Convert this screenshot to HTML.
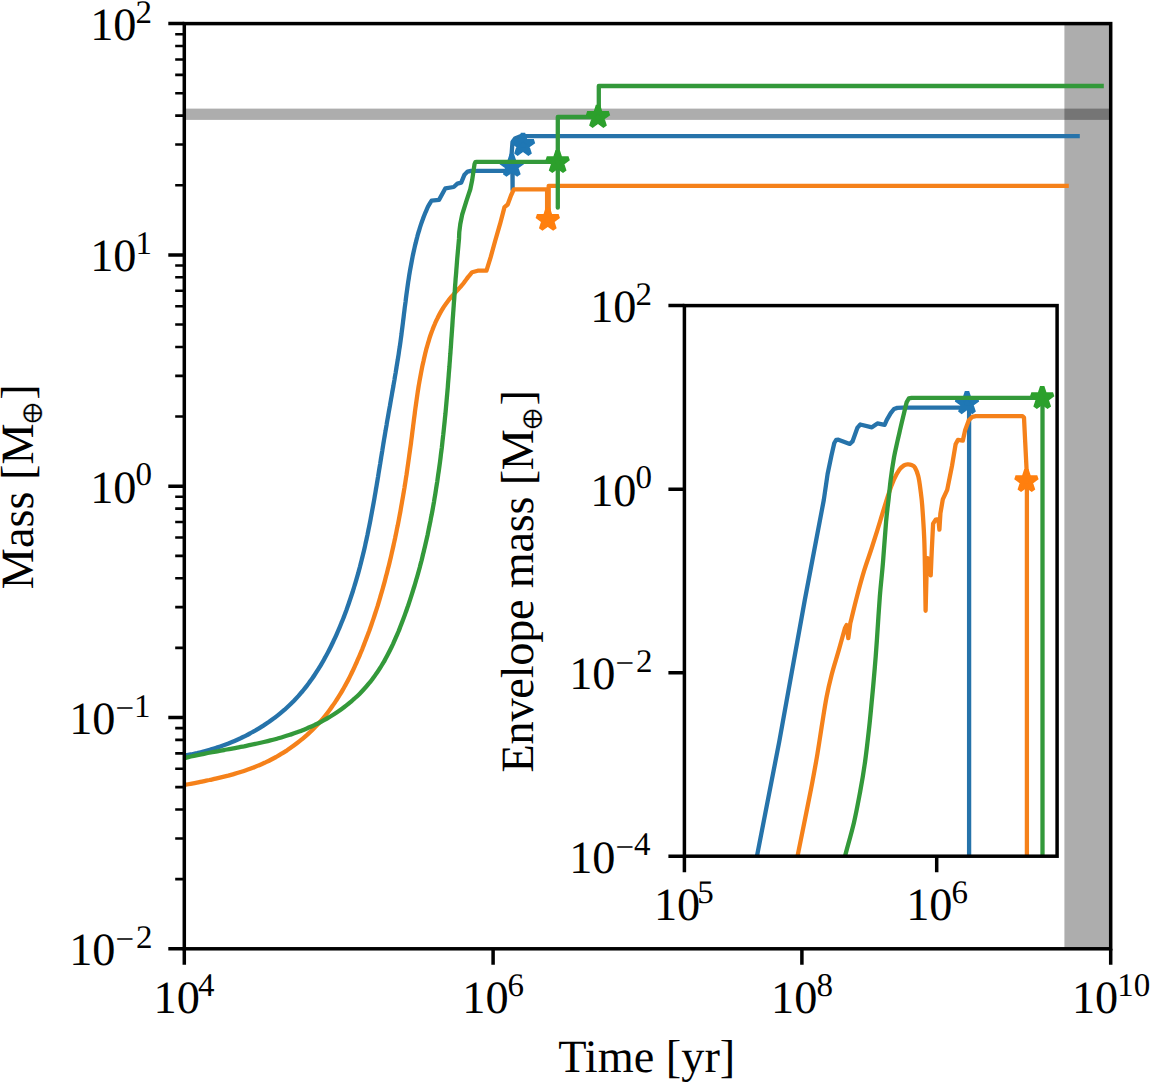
<!DOCTYPE html><html><head><meta charset="utf-8"><title>Mass vs Time</title><style>html,body{margin:0;padding:0;background:#fff}svg{display:block}text{font-family:"Liberation Serif","DejaVu Serif",serif;fill:#000;text-rendering:geometricPrecision}.sym{font-family:"DejaVu Math TeX Gyre","DejaVu Serif",serif}</style></head><body>
<svg width="1154" height="1085" viewBox="0 0 1154 1085">
<rect width="1154" height="1085" fill="#fff"/>
<defs><clipPath id="cm"><rect x="184.3" y="23.6" width="926.40" height="925.19"/></clipPath><clipPath id="ci"><rect x="684.4" y="305.6" width="372.69" height="550.6"/></clipPath></defs>
<rect x="184.3" y="108.6" width="926.40" height="11.3" fill="#000" fill-opacity="0.32"/>
<rect x="1064.4" y="23.6" width="46.29" height="925.19" fill="#000" fill-opacity="0.32"/>
<g clip-path="url(#cm)">
<path d="M184.3,755.6 C185.4,755.4 188.6,754.8 190.7,754.4 C192.8,754.0 195.0,753.5 197.1,753.1 C199.2,752.6 201.3,752.1 203.4,751.5 C205.6,751.0 207.7,750.4 209.8,749.8 C211.9,749.2 214.0,748.5 216.1,747.9 C218.1,747.2 220.2,746.5 222.3,745.7 C224.4,745.0 226.4,744.2 228.5,743.4 C230.5,742.6 232.5,741.8 234.6,740.9 C236.6,740.0 238.6,739.1 240.6,738.2 C242.6,737.2 244.6,736.3 246.5,735.3 C248.5,734.3 250.4,733.2 252.4,732.2 C254.3,731.1 256.2,730.0 258.1,728.9 C260.0,727.8 261.8,726.6 263.7,725.4 C265.5,724.2 267.3,723.0 269.1,721.8 C270.9,720.5 272.7,719.2 274.4,717.9 C276.2,716.6 277.9,715.3 279.6,713.9 C281.3,712.5 283.0,711.1 284.6,709.7 C286.2,708.2 287.8,706.7 289.4,705.2 C291.0,703.7 292.5,702.2 294.0,700.7 C295.5,699.1 297.0,697.5 298.5,695.9 C299.9,694.3 301.3,692.6 302.7,691.0 C304.1,689.3 305.5,687.6 306.8,685.9 C308.1,684.1 309.4,682.4 310.7,680.6 C311.9,678.8 313.2,677.0 314.4,675.2 C315.6,673.4 316.8,671.6 318.0,669.7 C319.1,667.9 320.3,666.0 321.4,664.1 C322.5,662.2 323.6,660.3 324.6,658.4 C325.7,656.5 326.8,654.6 327.8,652.6 C328.8,650.7 329.8,648.7 330.8,646.7 C331.7,644.8 332.7,642.8 333.6,640.8 C334.6,638.8 335.5,636.8 336.4,634.8 C337.3,632.8 338.2,630.8 339.0,628.8 C339.9,626.7 340.7,624.7 341.5,622.7 C342.4,620.7 343.2,618.6 344.0,616.6 C344.8,614.5 345.5,612.5 346.3,610.4 C347.0,608.4 347.8,606.3 348.5,604.2 C349.2,602.2 349.9,600.1 350.6,598.0 C351.3,596.0 352.0,593.9 352.7,591.8 C353.3,589.7 354.0,587.6 354.6,585.5 C355.3,583.4 355.9,581.3 356.5,579.2 C357.1,577.1 357.7,575.0 358.3,572.9 C358.8,570.8 359.4,568.7 360.0,566.6 C360.5,564.5 361.1,562.3 361.6,560.2 C362.1,558.1 362.7,556.0 363.2,553.8 C363.7,551.7 364.2,549.6 364.7,547.5 C365.2,545.3 365.6,543.2 366.1,541.1 C366.6,538.9 367.0,536.8 367.5,534.7 C367.9,532.5 368.4,530.4 368.8,528.2 C369.3,526.1 369.7,523.9 370.1,521.8 C370.5,519.7 370.9,517.5 371.3,515.4 C371.7,513.2 372.1,511.1 372.5,508.9 C372.9,506.8 373.3,504.6 373.7,502.4 C374.1,500.3 374.5,498.1 374.8,496.0 C375.2,493.8 375.6,491.7 375.9,489.5 C376.3,487.4 376.7,485.2 377.0,483.0 C377.4,480.9 377.7,478.7 378.1,476.6 C378.4,474.4 378.8,472.2 379.1,470.1 C379.5,467.9 379.8,465.8 380.2,463.6 C380.5,461.4 380.9,459.3 381.2,457.1 C381.6,455.0 381.9,452.8 382.3,450.6 C382.6,448.5 383.0,446.3 383.3,444.2 C383.7,442.0 384.0,439.9 384.4,437.7 C384.8,435.5 385.1,433.4 385.5,431.2 C385.8,429.1 386.2,426.9 386.6,424.8 C386.9,422.6 387.3,420.5 387.7,418.3 C388.1,416.1 388.4,414.0 388.8,411.8 C389.2,409.7 389.6,407.5 390.0,405.4 C390.3,403.2 390.7,401.1 391.1,398.9 C391.5,396.8 391.9,394.6 392.2,392.5 C392.6,390.3 393.0,388.2 393.4,386.0 C393.7,383.9 394.1,381.7 394.5,379.6 C394.8,377.4 395.2,375.3 395.6,373.1 C395.9,370.9 396.3,368.8 396.6,366.6 C397.0,364.5 397.3,362.3 397.7,360.2 C398.0,358.0 398.4,355.8 398.7,353.7 C399.0,351.5 399.3,349.3 399.7,347.2 C400.0,345.0 400.3,342.8 400.6,340.7 C400.9,338.5 401.2,336.3 401.5,334.1 C401.7,332.0 402.0,329.8 402.3,327.6 C402.6,325.4 402.9,323.3 403.1,321.1 C403.4,318.9 403.7,316.7 403.9,314.5 C404.2,312.4 404.5,310.2 404.7,308.0 C405.0,305.8 405.3,303.6 405.6,301.5 C405.8,299.3 406.1,297.1 406.4,294.9 C406.7,292.8 407.0,290.6 407.3,288.4 C407.6,286.3 407.9,284.1 408.2,281.9 C408.6,279.8 408.9,277.6 409.2,275.4 C409.6,273.3 409.9,271.1 410.3,269.0 C410.7,266.8 411.1,264.7 411.5,262.5 C411.9,260.4 412.3,258.3 412.7,256.1 C413.2,254.0 413.6,251.9 414.1,249.7 C414.6,247.6 415.0,245.5 415.6,243.4 C416.1,241.3 416.6,239.2 417.2,237.1 C417.7,235.0 418.3,232.9 419.0,230.8 C419.6,228.7 420.2,226.6 420.9,224.6 C421.6,222.5 422.3,220.5 423.1,218.4 C423.9,216.4 424.7,214.4 425.5,212.3 C426.4,210.3 427.2,208.3 428.2,206.3 C429.2,204.4 431.0,201.6 431.6,200.6 L439.0,199.9 L445.4,188.3 L453.7,187.0 L457.4,183.6 L461.2,182.6 L464.5,174.7 L467.6,171.6 L471.0,170.8 L512.6,170.8 L512.6,190.0 L512.4,170.8 L511.3,158.0 L512.5,142.0 L515.0,138.5 L520.5,136.1 L1079.8,136.1" fill="none" stroke="#2673aa" stroke-width="4.3" stroke-linejoin="round" stroke-linecap="butt"/>
<polygon points="511.80,154.40 514.36,162.28 522.64,162.28 515.94,167.15 518.50,175.02 511.80,170.15 505.10,175.02 507.66,167.15 500.96,162.28 509.24,162.28" fill="#1f77b4" stroke="#1f77b4" stroke-width="4.57" stroke-linejoin="bevel"/>
<polygon points="523.00,133.50 525.56,141.38 533.84,141.38 527.14,146.25 529.70,154.12 523.00,149.25 516.30,154.12 518.86,146.25 512.16,141.38 520.44,141.38" fill="#1f77b4" stroke="#1f77b4" stroke-width="4.57" stroke-linejoin="bevel"/>
<path d="M184.3,785.0 C185.3,784.8 188.5,784.2 190.6,783.8 C192.7,783.4 194.8,783.0 196.9,782.6 C199.0,782.2 201.1,781.7 203.1,781.3 C205.2,780.9 207.3,780.4 209.4,780.0 C211.5,779.5 213.6,779.1 215.7,778.6 C217.8,778.1 219.9,777.6 222.0,777.1 C224.1,776.6 226.2,776.1 228.2,775.6 C230.3,775.0 232.4,774.5 234.4,773.9 C236.5,773.3 238.6,772.7 240.6,772.0 C242.7,771.4 244.7,770.7 246.7,770.0 C248.7,769.3 250.8,768.6 252.8,767.8 C254.8,767.1 256.7,766.3 258.7,765.4 C260.7,764.6 262.7,763.7 264.6,762.8 C266.5,761.9 268.5,761.0 270.4,760.0 C272.3,759.0 274.2,758.0 276.1,757.0 C277.9,755.9 279.8,754.8 281.6,753.7 C283.5,752.6 285.3,751.4 287.1,750.3 C288.9,749.1 290.6,747.9 292.4,746.6 C294.1,745.4 295.8,744.1 297.5,742.8 C299.2,741.5 300.9,740.1 302.5,738.8 C304.2,737.4 305.8,736.0 307.4,734.6 C309.0,733.1 310.5,731.7 312.1,730.2 C313.6,728.7 315.1,727.2 316.6,725.6 C318.0,724.1 319.5,722.5 320.9,720.9 C322.3,719.3 323.6,717.7 325.0,716.0 C326.3,714.4 327.6,712.7 328.9,711.0 C330.2,709.3 331.4,707.6 332.6,705.8 C333.9,704.1 335.1,702.3 336.2,700.5 C337.4,698.7 338.5,696.9 339.6,695.1 C340.8,693.3 341.9,691.4 342.9,689.6 C344.0,687.7 345.0,685.8 346.1,683.9 C347.1,682.1 348.1,680.2 349.1,678.2 C350.0,676.3 351.0,674.4 351.9,672.5 C352.9,670.5 353.8,668.6 354.7,666.6 C355.6,664.6 356.5,662.7 357.3,660.7 C358.2,658.7 359.1,656.7 359.9,654.8 C360.7,652.8 361.5,650.8 362.4,648.8 C363.2,646.8 364.0,644.8 364.7,642.8 C365.5,640.8 366.3,638.8 367.0,636.8 C367.8,634.8 368.5,632.7 369.3,630.7 C370.0,628.7 370.7,626.7 371.4,624.7 C372.1,622.7 372.8,620.6 373.5,618.6 C374.2,616.6 374.8,614.6 375.5,612.5 C376.2,610.5 376.8,608.5 377.5,606.4 C378.1,604.4 378.7,602.3 379.3,600.3 C379.9,598.2 380.6,596.2 381.1,594.1 C381.7,592.1 382.3,590.0 382.9,588.0 C383.5,585.9 384.0,583.9 384.6,581.8 C385.2,579.8 385.7,577.7 386.2,575.6 C386.8,573.6 387.3,571.5 387.8,569.4 C388.4,567.4 388.9,565.3 389.4,563.2 C389.9,561.1 390.4,559.1 390.9,557.0 C391.4,554.9 391.8,552.8 392.3,550.7 C392.8,548.6 393.3,546.5 393.7,544.5 C394.2,542.4 394.6,540.3 395.1,538.2 C395.5,536.1 396.0,534.0 396.4,531.9 C396.8,529.8 397.2,527.7 397.7,525.6 C398.1,523.5 398.5,521.4 398.9,519.3 C399.3,517.2 399.7,515.1 400.1,513.0 C400.5,510.9 400.8,508.8 401.2,506.6 C401.6,504.5 402.0,502.4 402.3,500.3 C402.7,498.2 403.1,496.1 403.4,494.0 C403.8,491.8 404.1,489.7 404.5,487.6 C404.8,485.5 405.2,483.4 405.5,481.3 C405.8,479.1 406.1,477.0 406.5,474.9 C406.8,472.8 407.1,470.7 407.4,468.5 C407.7,466.4 408.0,464.3 408.3,462.2 C408.6,460.1 408.9,457.9 409.2,455.8 C409.5,453.7 409.8,451.6 410.1,449.4 C410.4,447.3 410.7,445.2 411.0,443.1 C411.2,440.9 411.5,438.8 411.8,436.7 C412.1,434.6 412.3,432.5 412.6,430.3 C412.9,428.2 413.1,426.1 413.4,424.0 C413.7,421.8 413.9,419.7 414.2,417.6 C414.5,415.5 414.8,413.4 415.0,411.2 C415.3,409.1 415.6,407.0 415.9,404.9 C416.2,402.8 416.5,400.7 416.8,398.5 C417.1,396.4 417.4,394.3 417.7,392.2 C418.0,390.1 418.4,388.0 418.7,385.9 C419.1,383.8 419.4,381.7 419.8,379.6 C420.2,377.4 420.6,375.3 421.0,373.2 C421.4,371.1 421.8,369.0 422.2,366.9 C422.6,364.8 423.1,362.7 423.6,360.7 C424.0,358.6 424.5,356.5 425.0,354.4 C425.5,352.3 426.1,350.2 426.6,348.1 C427.2,346.0 427.8,344.0 428.4,341.9 C429.0,339.9 429.6,337.8 430.3,335.8 C431.0,333.7 431.7,331.7 432.5,329.7 C433.2,327.7 434.0,325.7 434.9,323.8 C435.7,321.8 436.6,319.9 437.6,318.0 C438.5,316.1 439.5,314.2 440.5,312.4 C441.6,310.5 442.7,308.7 443.8,306.9 C445.0,305.1 446.2,303.4 447.5,301.7 C448.8,300.0 450.1,298.4 451.5,296.7 C452.9,295.1 454.4,293.5 455.9,291.9 C457.3,290.3 458.8,288.8 460.2,287.2 C461.6,285.5 463.0,283.9 464.3,282.2 C465.6,280.6 466.7,278.8 468.0,277.1 C469.4,275.5 471.5,273.0 472.2,272.2 L477.7,270.7 L486.5,270.7 L490.6,257.4 L495.2,240.8 L500.0,224.2 L504.5,207.1 L507.7,204.5 L511.0,195.5 L513.8,189.3 L547.1,189.3 L547.1,220.6 L548.7,220.6 L548.7,185.8 L1068.8,185.8" fill="none" stroke="#f5811a" stroke-width="4.3" stroke-linejoin="round" stroke-linecap="butt"/>
<polygon points="547.80,208.30 550.36,216.18 558.64,216.18 551.94,221.05 554.50,228.92 547.80,224.05 541.10,228.92 543.66,221.05 536.96,216.18 545.24,216.18" fill="#ff7f0e" stroke="#ff7f0e" stroke-width="4.57" stroke-linejoin="bevel"/>
<path d="M184.3,758.0 C185.4,757.8 188.7,757.0 190.9,756.5 C193.1,756.1 195.3,755.6 197.4,755.1 C199.6,754.7 201.8,754.3 204.0,753.8 C206.3,753.4 208.5,753.0 210.7,752.5 C212.9,752.1 215.1,751.7 217.3,751.3 C219.5,750.9 221.8,750.5 224.0,750.1 C226.2,749.7 228.4,749.2 230.7,748.8 C232.9,748.4 235.1,748.0 237.3,747.6 C239.5,747.2 241.8,746.7 244.0,746.3 C246.2,745.8 248.4,745.4 250.6,744.9 C252.9,744.5 255.1,744.0 257.3,743.5 C259.5,743.0 261.7,742.5 263.9,742.0 C266.1,741.5 268.3,741.0 270.4,740.4 C272.6,739.9 274.8,739.3 277.0,738.7 C279.1,738.1 281.3,737.5 283.5,736.8 C285.6,736.2 287.8,735.5 289.9,734.8 C292.0,734.1 294.2,733.4 296.3,732.6 C298.4,731.8 300.5,731.1 302.6,730.2 C304.7,729.4 306.7,728.5 308.8,727.6 C310.9,726.7 312.9,725.8 314.9,724.8 C317.0,723.9 319.0,722.9 321.0,721.8 C323.0,720.7 325.0,719.6 327.0,718.5 C328.9,717.4 330.9,716.2 332.8,715.0 C334.7,713.8 336.6,712.5 338.5,711.2 C340.4,709.9 342.2,708.6 344.0,707.2 C345.8,705.8 347.6,704.4 349.4,703.0 C351.1,701.5 352.9,700.1 354.5,698.5 C356.2,697.0 357.9,695.5 359.5,693.9 C361.1,692.3 362.6,690.7 364.1,689.0 C365.6,687.4 367.1,685.7 368.5,683.9 C370.0,682.2 371.4,680.5 372.7,678.7 C374.0,676.9 375.4,675.1 376.6,673.2 C377.9,671.4 379.1,669.5 380.3,667.6 C381.5,665.7 382.6,663.8 383.8,661.9 C384.9,659.9 386.0,658.0 387.0,656.0 C388.1,654.0 389.1,652.0 390.1,650.0 C391.1,648.0 392.1,645.9 393.1,643.9 C394.0,641.9 394.9,639.8 395.8,637.7 C396.7,635.6 397.6,633.6 398.5,631.5 C399.3,629.4 400.2,627.3 401.0,625.1 C401.8,623.0 402.6,620.9 403.4,618.8 C404.2,616.7 405.0,614.5 405.7,612.4 C406.5,610.3 407.2,608.1 408.0,606.0 C408.7,603.9 409.4,601.7 410.1,599.6 C410.8,597.4 411.5,595.3 412.2,593.1 C412.9,591.0 413.5,588.8 414.2,586.7 C414.9,584.5 415.5,582.4 416.1,580.2 C416.8,578.0 417.4,575.9 418.0,573.7 C418.6,571.6 419.2,569.4 419.8,567.2 C420.3,565.0 420.9,562.9 421.5,560.7 C422.0,558.5 422.6,556.3 423.1,554.1 C423.6,552.0 424.2,549.8 424.7,547.6 C425.2,545.4 425.7,543.2 426.2,541.0 C426.7,538.8 427.2,536.6 427.7,534.4 C428.1,532.2 428.6,530.0 429.0,527.8 C429.5,525.6 429.9,523.4 430.4,521.2 C430.8,519.0 431.2,516.8 431.7,514.6 C432.1,512.4 432.5,510.2 432.9,508.0 C433.3,505.8 433.7,503.5 434.1,501.3 C434.4,499.1 434.8,496.9 435.2,494.7 C435.5,492.4 435.9,490.2 436.2,488.0 C436.6,485.8 436.9,483.5 437.3,481.3 C437.6,479.1 437.9,476.9 438.2,474.6 C438.6,472.4 438.9,470.2 439.2,467.9 C439.5,465.7 439.8,463.5 440.1,461.2 C440.4,459.0 440.7,456.8 440.9,454.5 C441.2,452.3 441.5,450.0 441.8,447.8 C442.0,445.6 442.3,443.3 442.5,441.1 C442.8,438.8 443.0,436.6 443.3,434.3 C443.5,432.1 443.8,429.9 444.0,427.6 C444.2,425.4 444.5,423.1 444.7,420.9 C444.9,418.6 445.1,416.4 445.4,414.1 C445.6,411.9 445.8,409.6 446.0,407.4 C446.2,405.1 446.4,402.9 446.6,400.6 C446.8,398.4 447.0,396.1 447.2,393.9 C447.4,391.6 447.6,389.4 447.8,387.1 C447.9,384.9 448.1,382.6 448.3,380.3 C448.5,378.1 448.7,375.8 448.8,373.6 C449.0,371.3 449.2,369.1 449.4,366.8 C449.5,364.6 449.7,362.3 449.9,360.1 C450.0,357.8 450.2,355.5 450.4,353.3 C450.5,351.0 450.7,348.8 450.9,346.5 C451.0,344.3 451.2,342.0 451.3,339.8 C451.5,337.5 451.7,335.3 451.8,333.0 C452.0,330.8 452.1,328.5 452.3,326.3 C452.4,324.0 452.6,321.7 452.7,319.5 C452.9,317.2 453.1,315.0 453.2,312.7 C453.4,310.5 453.5,308.2 453.7,306.0 C453.8,303.7 454.0,301.5 454.2,299.3 C454.3,297.0 454.5,294.8 454.7,292.5 C454.8,290.3 455.0,288.0 455.1,285.8 C455.3,283.5 455.5,281.3 455.6,279.1 C455.8,276.8 456.0,274.6 456.2,272.3 C456.3,270.1 456.5,267.9 456.7,265.6 C456.9,263.4 457.0,261.2 457.2,258.9 C457.4,256.7 457.6,254.5 457.8,252.2 C458.0,250.0 458.2,247.8 458.4,245.5 C458.6,243.3 458.8,241.1 459.0,238.9 C459.1,236.6 459.2,233.1 459.3,232.0 L460.3,224.0 L462.2,214.5 L466.6,200.3 L470.3,189.2 L472.2,180.0 L474.5,164.3 L475.3,162.2 L477.0,161.8 L557.8,161.8 L557.8,207.7 L557.8,117.0 L598.8,117.0 L598.8,86.0 L1103.8,86.0" fill="none" stroke="#33993a" stroke-width="4.3" stroke-linejoin="round" stroke-linecap="butt"/>
<polygon points="557.65,150.60 560.21,158.48 568.49,158.48 561.79,163.35 564.35,171.22 557.65,166.35 550.95,171.22 553.51,163.35 546.81,158.48 555.09,158.48" fill="#2ca02c" stroke="#2ca02c" stroke-width="4.57" stroke-linejoin="bevel"/>
<polygon points="598.00,105.50 600.56,113.38 608.84,113.38 602.14,118.25 604.70,126.12 598.00,121.25 591.30,126.12 593.86,118.25 587.16,113.38 595.44,113.38" fill="#2ca02c" stroke="#2ca02c" stroke-width="4.57" stroke-linejoin="bevel"/>
</g>
<rect x="184.3" y="23.6" width="926.40" height="925.19" fill="none" stroke="#000" stroke-width="3.5" stroke-linejoin="miter"/>
<path d="M184.3,23.60h-16 M184.3,254.90h-16 M184.3,486.20h-16 M184.3,717.50h-16 M184.3,948.80h-16" stroke="#000" stroke-width="3.5" fill="none"/>
<path d="M184.3,185.27h-9.1 M184.3,144.54h-9.1 M184.3,115.64h-9.1 M184.3,93.23h-9.1 M184.3,74.91h-9.1 M184.3,59.43h-9.1 M184.3,46.02h-9.1 M184.3,34.18h-9.1 M184.3,416.57h-9.1 M184.3,375.84h-9.1 M184.3,346.94h-9.1 M184.3,324.53h-9.1 M184.3,306.21h-9.1 M184.3,290.73h-9.1 M184.3,277.32h-9.1 M184.3,265.48h-9.1 M184.3,647.87h-9.1 M184.3,607.14h-9.1 M184.3,578.24h-9.1 M184.3,555.83h-9.1 M184.3,537.51h-9.1 M184.3,522.03h-9.1 M184.3,508.62h-9.1 M184.3,496.78h-9.1 M184.3,879.17h-9.1 M184.3,838.44h-9.1 M184.3,809.54h-9.1 M184.3,787.13h-9.1 M184.3,768.81h-9.1 M184.3,753.33h-9.1 M184.3,739.92h-9.1 M184.3,728.08h-9.1" stroke="#000" stroke-width="2.6" fill="none"/>
<path d="M184.30,948.8v16 M493.10,948.8v16 M801.90,948.8v16 M1110.70,948.8v16" stroke="#000" stroke-width="3.5" fill="none"/>
<text x="90.2" y="39.9" font-size="46.3">10<tspan dy="-17.2" dx="-1" font-size="33">2</tspan></text>
<text x="90.2" y="271.2" font-size="46.3">10<tspan dy="-17.2" dx="-1" font-size="33">1</tspan></text>
<text x="90.2" y="502.5" font-size="46.3">10<tspan dy="-17.2" dx="-1" font-size="33">0</tspan></text>
<text x="69.2" y="733.8" font-size="46.3">10<tspan dy="-14.7" font-size="33">−<tspan dx="0" dy="-2.5">1</tspan></tspan></text>
<text x="69.2" y="965.1" font-size="46.3">10<tspan dy="-14.7" font-size="33">−<tspan dx="2" dy="-2.5">2</tspan></tspan></text>
<text x="153.5" y="1012.8" font-size="46.3">10<tspan dy="-17.2" dx="-1.7" font-size="33">4</tspan></text>
<text x="462.3" y="1012.8" font-size="46.3">10<tspan dy="-17.2" dx="-1" font-size="33">6</tspan></text>
<text x="771.1" y="1012.8" font-size="46.3">10<tspan dy="-17.2" dx="-1" font-size="33">8</tspan></text>
<text x="1071.9" y="1012.8" font-size="46.3">10<tspan dy="-17.2" dx="-1" font-size="33">10</tspan></text>
<text x="558.2" y="1072.4" font-size="46.3">Time [yr]</text>
<g transform="translate(32.7,589.2) rotate(-90)"><text x="0" y="0" font-size="46.3">Mass [M</text><text class="sym" stroke="#fff" stroke-width="0.45" x="163.9" y="7.9" font-size="30.3">⊕</text><text x="189.5" y="0" font-size="46.3">]</text></g>
<rect x="684.4" y="305.6" width="372.69" height="550.6" fill="#fff"/>
<g clip-path="url(#ci)">
<path d="M756.8,857.0 L779.3,741.4 L804.8,600.0 L823.8,500.0 L827.6,474.0 L831.5,455.2 L834.3,443.0 L836.2,439.9 L838.4,439.7 L849.8,443.9 L852.5,441.4 L857.5,427.6 L860.3,424.5 L871.9,427.3 L877.4,423.4 L884.6,424.8 L886.8,419.8 L890.7,413.2 L894.0,409.0 L897.3,407.9 L903.0,407.6 L969.1,407.6 L969.1,860.0" fill="none" stroke="#2673aa" stroke-width="4.3" stroke-linejoin="round" stroke-linecap="butt" />
<polygon points="967.00,391.70 969.56,399.58 977.84,399.58 971.14,404.45 973.70,412.32 967.00,407.45 960.30,412.32 962.86,404.45 956.16,399.58 964.44,399.58" fill="#1f77b4" stroke="#1f77b4" stroke-width="4.57" stroke-linejoin="bevel"/>
<path d="M797.4,857.0 C797.5,856.3 796.7,860.4 798.2,852.9 C799.7,845.4 804.0,824.1 806.4,812.3 C808.8,800.5 810.5,791.7 812.4,781.9 C814.2,772.1 816.0,762.6 817.5,753.5 C819.0,744.4 820.1,736.7 821.6,727.2 C823.1,717.8 824.9,705.6 826.6,696.8 C828.3,688.0 829.7,682.3 831.7,674.5 C833.7,666.7 836.6,657.9 838.8,650.1 C841.0,642.3 844.0,631.4 845.1,627.7 L846.6,625.1 L848.3,638.1 L850.3,623.3 C851.4,618.9 854.6,605.6 856.9,596.8 C859.2,587.9 861.8,578.3 864.3,570.2 C866.8,562.1 869.1,556.1 871.7,548.0 C874.3,539.9 877.3,530.4 880.0,521.6 C882.7,512.8 885.8,502.3 888.1,495.3 C890.4,488.3 892.1,483.8 894.0,479.5 C895.9,475.2 897.8,472.0 899.5,469.6 C901.2,467.2 902.6,466.3 904.0,465.4 C905.4,464.5 906.5,464.5 907.8,464.4 C909.0,464.3 910.3,464.5 911.5,465.0 C912.7,465.5 913.9,465.7 915.0,467.6 C916.1,469.5 917.4,472.5 918.3,476.2 C919.2,479.9 919.9,485.1 920.5,490.0 C921.1,494.9 921.6,497.4 922.2,505.4 C922.8,513.4 923.7,526.6 924.2,537.8 C924.7,548.9 924.8,560.1 925.0,572.3 C925.2,584.5 925.5,604.4 925.6,610.8 L926.6,572.3 L927.6,558.1 L929.3,560.1 L930.7,575.4 L931.7,552.0 L933.1,523.7 L935.7,519.6 L938.4,519.2 L939.4,529.7 L940.4,513.5 L942.8,499.3 L947.2,489.8 L952.0,465.9 L955.6,444.3 L958.0,439.8 L962.8,440.7 L965.2,429.9 L968.8,420.3 L972.4,416.8 L975.9,416.1 L1022.4,416.1 L1024.0,417.6 L1025.2,442.0 L1026.7,472.0 L1026.9,482.0 L1026.9,860.0" fill="none" stroke="#f5811a" stroke-width="4.3" stroke-linejoin="round" stroke-linecap="butt"/>
<polygon points="1026.40,469.60 1028.96,477.48 1037.24,477.48 1030.54,482.35 1033.10,490.22 1026.40,485.35 1019.70,490.22 1022.26,482.35 1015.56,477.48 1023.84,477.48" fill="#ff7f0e" stroke="#ff7f0e" stroke-width="4.57" stroke-linejoin="bevel"/>
<path d="M844.8,857.0 C845.0,856.3 844.4,858.7 845.9,852.9 C847.4,847.1 851.6,832.5 854.0,822.4 C856.4,812.2 858.2,802.1 860.1,792.0 C862.0,781.9 863.6,772.4 865.1,761.6 C866.6,750.8 868.0,738.0 869.2,727.2 C870.4,716.4 871.2,706.9 872.2,696.8 C873.2,686.7 874.1,675.9 874.9,666.4 C875.7,656.9 876.1,651.6 876.9,640.0 C877.7,628.4 878.8,610.0 879.8,597.0 C880.8,584.0 882.0,574.8 883.0,562.2 C884.0,549.6 885.2,532.0 886.1,521.6 C887.0,511.2 887.7,507.0 888.5,500.0 C889.3,493.0 889.8,486.6 890.7,479.5 C891.6,472.4 892.9,463.7 894.0,457.4 C895.1,451.1 896.2,446.9 897.3,441.9 C898.4,436.9 899.5,432.4 900.6,427.6 C901.7,422.8 903.0,417.4 904.0,413.2 C905.0,408.9 906.2,404.0 906.7,402.1 L908.9,398.4 L911.7,397.8 L1042.5,397.8 L1042.5,860.0" fill="none" stroke="#33993a" stroke-width="4.3" stroke-linejoin="round" stroke-linecap="butt"/>
<polygon points="1042.20,386.60 1044.76,394.48 1053.04,394.48 1046.34,399.35 1048.90,407.22 1042.20,402.35 1035.50,407.22 1038.06,399.35 1031.36,394.48 1039.64,394.48" fill="#2ca02c" stroke="#2ca02c" stroke-width="4.57" stroke-linejoin="bevel"/>
</g>
<rect x="684.4" y="305.6" width="372.69" height="550.6" fill="none" stroke="#000" stroke-width="3.5"/>
<text x="590.2" y="322.0" font-size="46.3">10<tspan dy="-17.2" dx="-1" font-size="33">2</tspan></text>
<text x="590.2" y="505.5" font-size="46.3">10<tspan dy="-17.2" dx="-1" font-size="33">0</tspan></text>
<text x="569.2" y="689.1" font-size="46.3">10<tspan dy="-14.7" font-size="33">−<tspan dx="2" dy="-2.5">2</tspan></tspan></text>
<text x="569.2" y="872.6" font-size="46.3">10<tspan dy="-14.7" font-size="33">−<tspan dx="0" dy="-2.5">4</tspan></tspan></text>
<text x="653.9" y="920.1" font-size="46.3">10<tspan dy="-17.2" dx="-3" font-size="33">5</tspan></text>
<text x="906.2" y="920.1" font-size="46.3">10<tspan dy="-17.2" dx="-1" font-size="33">6</tspan></text>
<path d="M684.4,305.60h-16 M684.4,489.13h-16 M684.4,672.67h-16 M684.4,856.20h-16 M684.40,856.2v16 M936.70,856.2v16" stroke="#000" stroke-width="3.5" fill="none"/>
<g transform="translate(533.2,772.5) rotate(-90)"><text x="0" y="0" font-size="46.3" textLength="343.5" lengthAdjust="spacing">Envelope mass [M</text><text class="sym" stroke="#fff" stroke-width="0.45" x="341.5" y="7.9" font-size="30.3">⊕</text><text x="367.1" y="0" font-size="46.3">]</text></g>
</svg></body></html>
